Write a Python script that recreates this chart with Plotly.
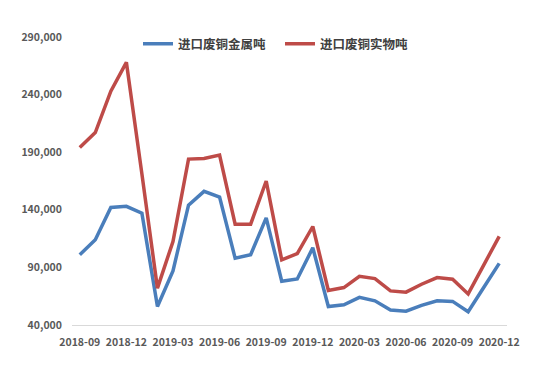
import plotly.graph_objects as go

months = ["2018-09","2018-10","2018-11","2018-12","2019-01","2019-02","2019-03","2019-04",
          "2019-05","2019-06","2019-07","2019-08","2019-09","2019-10","2019-11","2019-12",
          "2020-01","2020-02","2020-03","2020-04","2020-05","2020-06","2020-07","2020-08",
          "2020-09","2020-10","2020-11","2020-12"]
metal_t = [101000,114000,142000,143000,137000,56000,87000,144000,
           156000,151000,98000,101000,133000,78000,80000,107000,
           56000,57500,64000,61000,53000,52000,57000,61000,
           60500,51500,72500,93500]
physical_t = [194000,207000,243000,268000,171000,72000,112500,184000,
              184500,187500,127500,127500,165000,96500,102000,125500,
              70000,72500,82300,80300,69600,68500,75400,81200,
              79800,67000,92000,117000]
tick_labels = ["2018-09","2018-12","2019-03","2019-06","2019-09","2019-12",
               "2020-03","2020-06","2020-09","2020-12"]
y_ticks = [40000,90000,140000,190000,240000,290000]

FONT = "Noto Sans CJK SC"
# page body has an 8px default margin; compensate so the plot lands where the reference has it
OFF = 8
W, H = 550, 369
L, T = 72 - OFF, 37 - OFF
R = W - (507 - OFF)
B = H - (325 - OFF)
PW = W - L - R

fig = go.Figure()
fig.add_trace(go.Scatter(x=months, y=metal_t, mode="lines", name="进口废铜金属吨",
                         line=dict(color="#4A7EBB", width=3.5), legend="legend"))
fig.add_trace(go.Scatter(x=months, y=physical_t, mode="lines", name="进口废铜实物吨",
                         line=dict(color="#BE4B48", width=3.5), legend="legend2"))

leg_font = dict(family=FONT, size=12.5, color="#404040", weight="bold")
fig.update_layout(
    width=W, height=H,
    margin=dict(l=L, r=R, t=T, b=B, autoexpand=False),
    plot_bgcolor="white", paper_bgcolor="white",
    font=dict(family=FONT, size=10.5, color="#595959"),
    showlegend=True,
    legend=dict(x=(143 - OFF - 5 - L) / PW, xanchor="left", y=0.975, yanchor="middle",
                font=leg_font, bgcolor="rgba(0,0,0,0)"),
    legend2=dict(x=(285 - OFF - 5 - L) / PW, xanchor="left", y=0.975, yanchor="middle",
                 font=leg_font, bgcolor="rgba(0,0,0,0)"),
    xaxis=dict(type="category", tickmode="array", tickvals=tick_labels, ticktext=tick_labels,
               showgrid=False, showline=True, linecolor="#D9D9D9", linewidth=1,
               ticks="", tickfont=dict(family=FONT, size=10.5, color="#595959", weight="bold"),
               range=[-0.5, len(months) - 0.5], automargin=False, ticklabelstandoff=7),
    yaxis=dict(range=[40000, 290000], tickmode="array", tickvals=y_ticks,
               ticktext=[f"{v:,}" for v in y_ticks],
               showgrid=False, zeroline=False, showline=False, ticks="",
               tickfont=dict(family=FONT, size=10.5, color="#595959", weight="bold"),
               ticklabelstandoff=9, automargin=False),
)

fig.write_html("out.html")
